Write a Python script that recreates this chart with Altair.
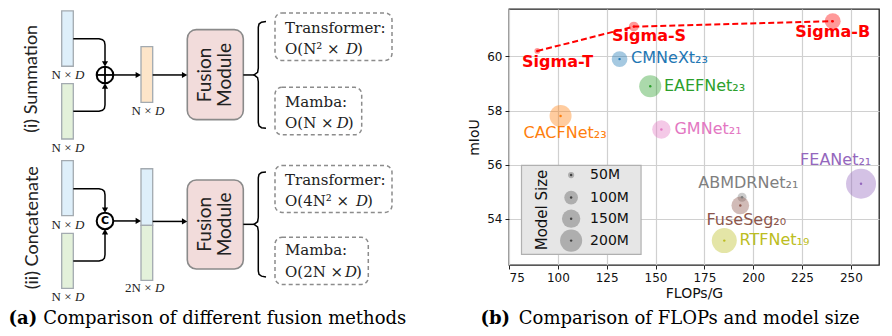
import altair as alt
import pandas as pd

# ---------------- (b) FLOPs vs mIoU ----------------
models = ["Sigma-T", "Sigma-S", "Sigma-B", "CMNeXt", "EAEFNet", "CACFNet",
          "GMNet", "FEANet", "ABMDRNet", "FuseSeg", "RTFNet"]
flops = [89.5, 138.9, 240.7, 131.6, 147.3, 101.4, 153.0, 255.2, 194.3, 193.4, 185.2]
miou = [60.2, 61.1, 61.3, 59.9, 58.9, 57.8, 57.3, 55.3, 54.8, 54.5, 53.2]
params_m = [48.3, 69.8, 121.4, 119.6, 200.4, 198.6, 149.8, 337.1, 64.6, 141.5, 245.7]
colors = ["#ff0000", "#ff0000", "#ff0000", "#1f77b4", "#2ca02c", "#ff7f0e",
          "#e377c2", "#9467bd", "#7f7f7f", "#8c564b", "#bcbd22"]

label_text = ["CMNeXt₂₃", "EAEFNet₂₃", "CACFNet₂₃", "GMNet₂₁", "FEANet₂₁",
              "ABMDRNet₂₁", "FuseSeg₂₀", "RTFNet₁₉"]
label_x = [137.5, 154.3, 82.4, 159.7, 224.0, 171.9, 176.1, 193.0]
label_y = [59.94, 58.92, 57.18, 57.31, 56.19, 55.32, 53.97, 53.22]
label_color = colors[3:]

sigma_text = ["Sigma-T", "Sigma-S", "Sigma-B"]
sigma_x = [99.9, 146.7, 240.7]
sigma_y = [59.78, 60.74, 60.9]

legend_sizes = [50, 100, 150, 200]
legend_labels = ["50M", "100M", "150M", "200M"]
legend_y = [55.62, 54.79, 54.01, 53.2]
legend_x = [106.8, 106.8, 106.8, 106.8]
legend_label_x = [116.5, 116.5, 116.5, 116.5]
legend_box_x = [81.4, 142.6]
legend_box_y = [52.69, 55.98]
legend_title = ["Model Size"]
legend_title_x = [91.9]
legend_title_y = [54.33]

x_ticks = [75, 100, 125, 150, 175, 200, 225, 250]
y_ticks = [54, 56, 58, 60]

# ---------------- (a) fusion diagram ----------------
bar_x1 = [61.7, 61.7, 141.0, 61.7, 61.7, 141.0, 141.0]
bar_x2 = [73.3, 73.3, 152.7, 73.3, 73.3, 152.7, 152.7]
bar_y1 = [4.0, 79.0, 40.7, 158.3, 233.3, 166.7, 225.0]
bar_y2 = [61.0, 136.0, 98.3, 215.0, 290.0, 225.0, 281.7]
bar_fill = ["#deeffa", "#e3f1da", "#fde5c9", "#deeffa", "#e3f1da", "#deeffa", "#e3f1da"]

mod_x1 = [187.3, 187.3]
mod_x2 = [243.3, 243.3]
mod_y1 = [23.3, 178.3]
mod_y2 = [116.0, 270.0]

box_x1 = [275.0, 275.0, 275.0, 275.0]
box_x2 = [392.0, 361.7, 392.0, 368.3]
box_y1 = [6.0, 82.7, 163.3, 237.3]
box_y2 = [55.0, 131.7, 211.7, 286.0]

line_segs = [
    [(73.3, 32.7), (99, 32.7), (102.5, 33.6), (104.4, 35.5), (105, 39), (105, 57)],
    [(73.3, 107.3), (99, 107.3), (102.5, 106.4), (104.4, 104.5), (105, 101), (105, 83)],
    [(113.3, 70), (137, 70)],
    [(152.7, 70), (183, 70)],
    [(243.3, 70), (254, 70)],
    [(73.3, 187.3), (99, 187.3), (102.5, 188.2), (104.4, 190.1), (105, 193.6), (105, 208)],
    [(73.3, 261.7), (99, 261.7), (102.5, 260.8), (104.4, 258.9), (105, 255.4), (105, 233)],
    [(113, 220.5), (137, 220.5)],
    [(152.7, 221), (183, 221)],
    [(243.3, 224), (254, 224)],
    [(266, 15), (261.5, 15.6), (259, 17.5), (258.3, 21), (258.3, 63), (257.6, 67.3), (254, 70),
     (257.6, 72.7), (258.3, 77), (258.3, 119), (259, 122.5), (261.5, 124.4), (266, 125)],
    [(266, 170), (261.5, 170.6), (259, 172.5), (258.3, 176), (258.3, 217), (257.6, 221.3), (254, 224),
     (257.6, 226.7), (258.3, 231), (258.3, 272), (259, 275.5), (261.5, 277.4), (266, 278.3)],
]
cross_segs = [
    [(96.7, 70), (113.3, 70)],
    [(105, 61.4), (105, 78.6)],
]

arrow_x = [105, 105, 138.3, 184.6, 105, 105, 138.3, 184.6]
arrow_y = [58.6, 81.4, 70, 70, 209.4, 231.6, 220.5, 221]
arrow_shape = ["triangle-down", "triangle-up", "triangle-right", "triangle-right",
               "triangle-down", "triangle-up", "triangle-right", "triangle-right"]

op_x = [105, 105]
op_y = [70, 220.5]

side_text = ["(i) Summation", "(ii) Concatenate"]
side_x = [31.7, 33.0]
side_y = [74.0, 227.5]

module_text = ["Fusion", "Module", "Fusion", "Module"]
module_x = [205, 225, 205, 225]
module_y = [70, 70, 224, 224]

box_text = ["Transformer:", "O(N² ×", "Mamba:", "O(N ×",
            "Transformer:", "O(4N² ×", "Mamba:", "O(2N ×"]
box_text_x = [285] * 8
box_text_y = [21.7, 43.3, 98.3, 120.0, 178.3, 200.0, 250.0, 273.3]
box_d_x = [346.0, 336.7, 356.0, 345.0]
box_d_y = [43.3, 120.0, 200.0, 273.3]

small_text = ["N ×", "N ×", "N ×", "N ×", "N ×", "2N ×"]
small_d_x = [75, 75, 155, 75, 75, 155]
small_y = [70, 145, 107.3, 225, 299.3, 290]

# ================= build (a) =================
DX = alt.X("x:Q", scale=alt.Scale(domain=[8, 412], nice=False, zero=False), axis=None)
DY = alt.Y("y:Q", scale=alt.Scale(domain=[2, 2 + 320 / 0.97], nice=False, zero=False, reverse=True), axis=None)

bars = pd.DataFrame({"x": bar_x1, "x2": bar_x2, "y": bar_y1, "y2": bar_y2, "f": bar_fill})
mods = pd.DataFrame({"x": mod_x1, "x2": mod_x2, "y": mod_y1, "y2": mod_y2})
boxes = pd.DataFrame({"x": box_x1, "x2": box_x2, "y": box_y1, "y2": box_y2})


def seg_frame(segs):
    rows = []
    for i, seg in enumerate(segs):
        for j, (px, py) in enumerate(seg):
            rows.append({"s": i, "o": j, "x": px, "y": py})
    return pd.DataFrame(rows)


lines = seg_frame(line_segs)
cross = seg_frame(cross_segs)
arrows = pd.DataFrame({"x": arrow_x, "y": arrow_y, "sh": arrow_shape})
ops = pd.DataFrame({"x": op_x, "y": op_y})

l_bars = alt.Chart(bars).mark_rect(stroke="#a3aab0", strokeWidth=1.3).encode(
    x=DX, x2="x2:Q", y=DY, y2="y2:Q", fill=alt.Fill("f:N", scale=None))
l_mods = alt.Chart(mods).mark_rect(fill="#f2dcdb", stroke="#8a8a8a", strokeWidth=1.6,
                                   cornerRadius=9).encode(x=DX, x2="x2:Q", y=DY, y2="y2:Q")
l_boxes = alt.Chart(boxes).mark_rect(fill="white", stroke="#8c8c8c", strokeWidth=1.5,
                                     strokeDash=[4, 3], cornerRadius=7).encode(
    x=DX, x2="x2:Q", y=DY, y2="y2:Q")
l_lines = alt.Chart(lines).mark_line(color="black", strokeWidth=1.5).encode(
    x=DX, y=DY, detail="s:N", order="o:Q")
l_arrows = alt.Chart(arrows).mark_point(filled=True, color="black", size=38, opacity=1).encode(
    x=DX, y=DY, shape=alt.Shape("sh:N", scale=None))
l_ops = alt.Chart(ops).mark_point(shape="circle", filled=True, fill="white", stroke="black",
                                  strokeWidth=2, size=276, opacity=1).encode(x=DX, y=DY)
l_cross = alt.Chart(cross).mark_line(color="black", strokeWidth=1.8).encode(
    x=DX, y=DY, detail="s:N", order="o:Q")
l_c = alt.Chart(pd.DataFrame({"x": [105], "y": [220.5], "t": ["C"]})).mark_text(
    font="DejaVu Sans", fontWeight="bold", fontSize=11, color="black").encode(x=DX, y=DY, text="t:N")

l_side = alt.Chart(pd.DataFrame({"x": side_x, "y": side_y, "t": side_text})).mark_text(
    font="Lato", fontSize=18, angle=270, color="#222").encode(x=DX, y=DY, text="t:N")
l_mod_t = alt.Chart(pd.DataFrame({"x": module_x, "y": module_y, "t": module_text})).mark_text(
    font="Lato", fontSize=19, angle=270, color="#222").encode(x=DX, y=DY, text="t:N")
l_box_t = alt.Chart(pd.DataFrame({"x": box_text_x, "y": box_text_y, "t": box_text})).mark_text(
    font="DejaVu Serif", fontSize=15, align="left", color="#222").encode(x=DX, y=DY, text="t:N")
l_box_d = alt.Chart(pd.DataFrame({"x": box_d_x, "y": box_d_y, "t": ["D"] * 4})).mark_text(
    font="DejaVu Serif", fontStyle="italic", fontSize=15, align="left", color="#222").encode(
    x=DX, y=DY, text="t:N")
l_box_p = alt.Chart(pd.DataFrame({"x": [v + 11 for v in box_d_x], "y": box_d_y, "t": [")"] * 4})).mark_text(
    font="DejaVu Serif", fontSize=15, align="left", color="#222").encode(x=DX, y=DY, text="t:N")
l_small = alt.Chart(pd.DataFrame({"x": [v - 3.5 for v in small_d_x], "y": small_y, "t": small_text})).mark_text(
    font="Liberation Serif", fontSize=13, align="right", color="#222").encode(x=DX, y=DY, text="t:N")
l_small_d = alt.Chart(pd.DataFrame({"x": small_d_x, "y": small_y, "t": ["D"] * 6})).mark_text(
    font="Liberation Serif", fontStyle="italic", fontSize=13, align="left", color="#222").encode(
    x=DX, y=DY, text="t:N")
l_cap_a1 = alt.Chart(pd.DataFrame({"x": [8.5], "y": [322], "t": ["(a)"]})).mark_text(
    font="DejaVu Serif", fontWeight="bold", fontSize=18, align="left", color="black").encode(
    x=DX, y=DY, text="t:N")
l_cap_a2 = alt.Chart(pd.DataFrame({"x": [43.3], "y": [322], "t": ["Comparison of different fusion methods"]})).mark_text(
    font="DejaVu Serif", fontSize=18, align="left", color="black").encode(x=DX, y=DY, text="t:N")

diagram = alt.layer(
    l_bars, l_mods, l_boxes, l_lines, l_arrows, l_ops, l_cross, l_c,
    l_side, l_mod_t, l_box_t, l_box_d, l_box_p, l_small, l_small_d, l_cap_a1, l_cap_a2
).properties(width=404, height=320, view=alt.ViewBackground(strokeWidth=0))

# ================= build (b) =================
xaxis = alt.Axis(values=x_ticks, title="FLOPs/G", grid=True, domain=False,
                 labelPadding=3, titlePadding=3)
yaxis = alt.Axis(values=y_ticks, title="mIoU", grid=True, domain=False,
                 labelPadding=3, titlePadding=5)
BX = alt.X("x:Q", scale=alt.Scale(domain=[75, 264.4], nice=False, zero=False), axis=xaxis)
BY = alt.Y("y:Q", scale=alt.Scale(domain=[52.3, 61.75], nice=False, zero=False), axis=yaxis)
SIZE = alt.Size("p:Q", scale=alt.Scale(domain=[50, 200], range=[38, 488], zero=False), legend=None)

pts = pd.DataFrame({"m": models, "x": flops, "y": miou, "p": params_m, "c": colors})
sig = pts.iloc[:3].copy()
labels = pd.DataFrame({"x": label_x, "y": label_y, "t": label_text, "c": label_color})
sig_lab = pd.DataFrame({"x": sigma_x, "y": sigma_y, "t": sigma_text})
leg = pd.DataFrame({"x": legend_x, "y": legend_y, "p": legend_sizes})
leg_lab = pd.DataFrame({"x": legend_label_x, "y": legend_y, "t": legend_labels})
leg_box = pd.DataFrame({"x": [legend_box_x[0]], "x2": [legend_box_x[1]],
                        "y": [legend_box_y[0]], "y2": [legend_box_y[1]]})
leg_title = pd.DataFrame({"x": legend_title_x, "y": legend_title_y, "t": legend_title})

b_box = alt.Chart(leg_box).mark_rect(fill="#e6e6e6", stroke="#b0b0b0", strokeWidth=1.2).encode(
    x=BX, x2="x2:Q", y=BY, y2="y2:Q")
b_leg = alt.Chart(leg).mark_circle(color="#808080", opacity=0.55).encode(x=BX, y=BY, size=SIZE)
b_leg_dot = alt.Chart(leg).mark_circle(color="#404040", size=6, opacity=1).encode(x=BX, y=BY)
b_leg_lab = alt.Chart(leg_lab).mark_text(font="DejaVu Sans", fontSize=14, align="left",
                                         color="#111").encode(x=BX, y=BY, text="t:N")
b_leg_title = alt.Chart(leg_title).mark_text(font="DejaVu Sans", fontSize=15, angle=270,
                                             color="#111").encode(x=BX, y=BY, text="t:N")
b_bub = alt.Chart(pts).mark_circle(opacity=0.4).encode(
    x=BX, y=BY, size=SIZE, color=alt.Color("c:N", scale=None))
b_dot = alt.Chart(pts).mark_circle(size=6, opacity=1).encode(
    x=BX, y=BY, color=alt.Color("c:N", scale=None))
b_line = alt.Chart(sig).mark_line(color="#ff0000", strokeWidth=2, strokeDash=[6, 3]).encode(x=BX, y=BY)
b_lab = alt.Chart(labels).mark_text(font="DejaVu Sans", fontSize=16, align="left").encode(
    x=BX, y=BY, text="t:N", color=alt.Color("c:N", scale=None))
b_sig = alt.Chart(sig_lab).mark_text(font="DejaVu Sans", fontSize=16, fontWeight="bold",
                                     color="#ff0000").encode(x=BX, y=BY, text="t:N")
b_cap1 = alt.Chart(pd.DataFrame({"t": ["(b)"]})).mark_text(
    font="DejaVu Serif", fontWeight="bold", fontSize=18, align="left", color="black").encode(
    x=alt.value(-28.5), y=alt.value(310.4), text="t:N")
b_cap2 = alt.Chart(pd.DataFrame({"t": ["Comparison of FLOPs and model size"]})).mark_text(
    font="DejaVu Serif", fontSize=18, align="left", color="black").encode(
    x=alt.value(9.8), y=alt.value(310.4), text="t:N")

bubble = alt.layer(
    b_box, b_leg, b_leg_dot, b_leg_lab, b_leg_title, b_bub, b_dot, b_line, b_lab, b_sig, b_cap1, b_cap2
).properties(width=370, height=256, view=alt.ViewBackground(stroke="#222", strokeWidth=1.3))

chart = alt.hconcat(diagram, bubble, spacing=55).properties(padding=0).configure(
    background="white"
).configure_axis(
    gridColor="#d0d0d0", gridWidth=1.2, tickColor="#222", tickSize=4, tickWidth=1,
    labelFont="DejaVu Sans", labelFontSize=12, labelColor="#111",
    titleFont="DejaVu Sans", titleFontSize=14, titleFontWeight="normal", titleColor="#111"
)

chart.save("out.html", embed_options={"renderer": "svg", "actions": False})
